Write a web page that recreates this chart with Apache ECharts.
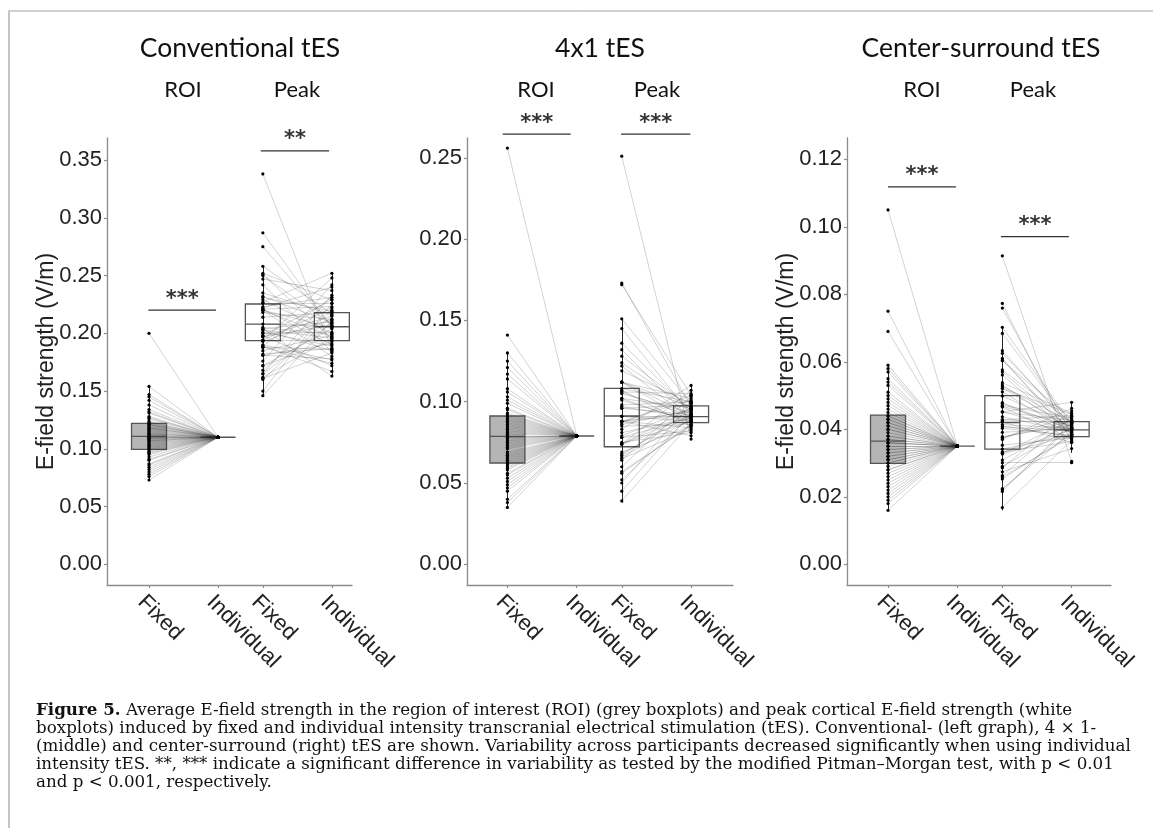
<!DOCTYPE html>
<html><head><meta charset="utf-8">
<script src="https://cdn.jsdelivr.net/npm/echarts@6/dist/echarts.min.js"></script>
<style>html,body{margin:0;padding:0;background:#fff}#c{width:1153px;height:828px}</style>
</head><body><div id="c"></div>
<script>
// ---------- categories / tick labels ----------
const xLabels = ['Fixed', 'Individual', 'Fixed', 'Individual'];
const xPos = [1, 2, 2.65, 3.65];
const groupLabels = ['ROI', 'Peak'];
const panelTitles = ['Conventional tES', '4x1 tES', 'Center-surround tES'];
const yTicksConv = [0, 0.05, 0.10, 0.15, 0.20, 0.25, 0.30, 0.35];
const yTicks4x1 = [0, 0.05, 0.10, 0.15, 0.20, 0.25];
const yTicksCS = [0, 0.02, 0.04, 0.06, 0.08, 0.10, 0.12];
const yName = 'E-field strength (V/m)';

// ---------- Conventional tES ----------
const convRoiFixed = [0.073,0.076,0.080,0.084,0.087,0.090,0.093,0.096,0.098,0.099,0.101,0.103,0.105,0.106,0.107,0.108,0.109,0.110,0.110,0.111,0.112,0.113,0.114,0.115,0.117,0.118,0.119,0.120,0.121,0.122,0.124,0.126,0.128,0.131,0.134,0.138,0.142,0.147,0.154,0.200,
  0.078,0.082,0.086,0.091,0.095,0.097,0.100,0.102,0.104,0.107,0.109,0.111,0.113,0.116,0.118,0.121,0.123,0.127,0.132,0.145];
const convRoiIndiv = [0.110,0.110,0.110,0.110,0.110,0.110,0.110,0.110,0.110,0.110,0.110,0.110,0.110,0.110,0.110,0.110,0.110,0.110,0.110,0.110,0.110,0.110,0.110,0.110,0.110,0.110,0.110,0.110,0.110,0.110,0.110,0.110,0.110,0.110,0.110,0.110,0.110,0.110,0.110,0.110,
  0.110,0.110,0.110,0.110,0.110,0.110,0.110,0.110,0.110,0.110,0.110,0.110,0.110,0.110,0.110,0.110,0.110,0.110,0.110,0.110];
const convPeakFixed = [0.150,0.146,0.176,0.168,0.165,0.189,0.172,0.194,0.172,0.227,0.197,0.185,0.197,0.223,0.182,0.214,0.200,0.194,0.226,0.208,0.181,0.218,0.203,0.247,0.201,0.220,0.188,0.235,0.203,0.232,0.189,0.229,0.221,0.258,0.220,0.204,0.251,0.275,0.287,0.338,
  0.165,0.160,0.194,0.162,0.198,0.161,0.193,0.222,0.181,0.204,0.221,0.188,0.205,0.231,0.190,0.252,0.220,0.198,0.250,0.242];
const convPeakIndiv = [0.226,0.211,0.242,0.220,0.209,0.231,0.204,0.222,0.193,0.252,0.215,0.198,0.207,0.231,0.187,0.218,0.201,0.194,0.226,0.206,0.178,0.212,0.196,0.237,0.189,0.205,0.174,0.216,0.185,0.209,0.167,0.200,0.190,0.217,0.180,0.163,0.195,0.206,0.205,0.186,
  0.233,0.215,0.248,0.196,0.229,0.183,0.212,0.240,0.191,0.210,0.223,0.186,0.199,0.219,0.177,0.229,0.197,0.172,0.208,0.184];
// box: [Q1, median, Q3] for ROI-Fixed, ROI-Individual, Peak-Fixed, Peak-Individual
const convBox = [[0.0996,0.1108,0.1221],[0.110,0.110,0.110],[0.1936,0.208,0.2254],[0.1936,0.2057,0.218]];
const convWhisker = [[0.073,0.154],[0.110,0.110],[0.145,0.258],[0.163,0.252]];
const convSigLabel = ['***', '**'];
const convSigY = [0.220, 0.358];
const convSigX = [[0.99, 1.97], [2.62, 3.61]];

// ---------- 4x1 tES ----------
const q41RoiFixed = [0.035,0.040,0.045,0.049,0.053,0.056,0.058,0.060,0.062,0.063,0.065,0.067,0.069,0.071,0.073,0.074,0.076,0.077,0.078,0.079,0.080,0.081,0.083,0.084,0.085,0.086,0.088,0.089,0.090,0.091,0.093,0.096,0.099,0.103,0.108,0.114,0.121,0.130,0.141,0.256,
  0.038,0.047,0.051,0.055,0.059,0.061,0.064,0.066,0.068,0.072,0.075,0.078,0.082,0.087,0.092,0.095,0.101,0.106,0.117,0.125];
const q41RoiIndiv = [0.079,0.079,0.079,0.079,0.079,0.079,0.079,0.079,0.079,0.079,0.079,0.079,0.079,0.079,0.079,0.079,0.079,0.079,0.079,0.079,0.079,0.079,0.079,0.079,0.079,0.079,0.079,0.079,0.079,0.079,0.079,0.079,0.079,0.079,0.079,0.079,0.079,0.079,0.079,0.079,
  0.079,0.079,0.079,0.079,0.079,0.079,0.079,0.079,0.079,0.079,0.079,0.079,0.079,0.079,0.079,0.079,0.079,0.079,0.079,0.079];
const q41PeakFixed = [0.039,0.050,0.052,0.064,0.057,0.067,0.066,0.083,0.065,0.074,0.079,0.074,0.088,0.081,0.075,0.088,0.088,0.096,0.085,0.091,0.106,0.091,0.088,0.102,0.097,0.108,0.088,0.105,0.101,0.112,0.102,0.112,0.107,0.124,0.122,0.136,0.151,0.172,0.173,0.251,
  0.045,0.060,0.056,0.074,0.068,0.074,0.069,0.087,0.078,0.086,0.078,0.098,0.096,0.112,0.106,0.119,0.112,0.128,0.132,0.145];
const q41PeakIndiv = [0.087,0.099,0.091,0.103,0.085,0.095,0.089,0.110,0.083,0.092,0.096,0.088,0.101,0.090,0.081,0.094,0.092,0.098,0.086,0.091,0.105,0.088,0.084,0.096,0.090,0.100,0.079,0.093,0.088,0.097,0.087,0.092,0.085,0.095,0.089,0.094,0.099,0.104,0.097,0.077,
  0.093,0.100,0.086,0.107,0.092,0.096,0.085,0.104,0.090,0.095,0.082,0.100,0.092,0.102,0.091,0.099,0.088,0.096,0.089,0.092];
const q41Box = [[0.0623,0.0787,0.0912],[0.0789,0.0789,0.0789],[0.0723,0.0912,0.1082],[0.0871,0.0908,0.0974]];
const q41Whisker = [[0.035,0.130],[0.0789,0.0789],[0.038,0.151],[0.078,0.110]];
const q41SigLabel = ['***', '***'];
const q41SigY = [0.2646, 0.2646];
const q41SigX = [[0.932, 1.913], [2.64, 3.64]];

// ---------- Center-surround tES ----------
const csRoiFixed = [0.016,0.018,0.020,0.022,0.024,0.025,0.027,0.028,0.029,0.030,0.031,0.032,0.033,0.033,0.034,0.035,0.035,0.036,0.036,0.037,0.038,0.039,0.040,0.041,0.042,0.042,0.043,0.044,0.044,0.045,0.047,0.049,0.051,0.053,0.055,0.057,0.059,0.069,0.075,0.105,
  0.019,0.021,0.023,0.026,0.028,0.030,0.031,0.032,0.034,0.036,0.037,0.038,0.040,0.041,0.043,0.046,0.048,0.050,0.054,0.058];
const csRoiIndiv = [0.035,0.035,0.035,0.035,0.035,0.035,0.035,0.035,0.035,0.035,0.035,0.035,0.035,0.035,0.035,0.035,0.035,0.035,0.035,0.035,0.035,0.035,0.035,0.035,0.035,0.035,0.035,0.035,0.035,0.035,0.035,0.035,0.035,0.035,0.035,0.035,0.035,0.035,0.035,0.035,
  0.035,0.035,0.035,0.035,0.035,0.035,0.035,0.035,0.035,0.035,0.035,0.035,0.035,0.035,0.035,0.035,0.035,0.035,0.035,0.035];
const csPeakFixed = [0.0168,0.0216,0.0224,0.0286,0.0259,0.0290,0.0329,0.0274,0.0331,0.0375,0.0341,0.0378,0.0452,0.0353,0.0391,0.0424,0.0301,0.0407,0.0428,0.0403,0.0471,0.0437,0.0468,0.0422,0.0479,0.0538,0.0477,0.0528,0.0466,0.0522,0.0531,0.0603,0.0561,0.0625,0.0633,0.0610,0.0702,0.0759,0.0773,0.0914,
  0.0222,0.0263,0.0253,0.0309,0.0370,0.0327,0.0375,0.0333,0.0428,0.0414,0.0451,0.0410,0.0452,0.0521,0.0499,0.0511,0.0576,0.0570,0.0605,0.0684];
const csPeakIndiv = [0.0368,0.0420,0.0392,0.0455,0.0378,0.0406,0.0427,0.0343,0.0399,0.0438,0.0385,0.0413,0.0480,0.0375,0.0403,0.0424,0.0301,0.0396,0.0417,0.0382,0.0434,0.0392,0.0410,0.0361,0.0399,0.0448,0.0389,0.0420,0.0371,0.0406,0.0396,0.0431,0.0385,0.0413,0.0403,0.0375,0.0417,0.0385,0.0361,0.0305,
  0.0410,0.0438,0.0385,0.0417,0.0462,0.0382,0.0424,0.0364,0.0441,0.0403,0.0427,0.0378,0.0396,0.0445,0.0406,0.0389,0.0420,0.0399,0.0392,0.0413];
const csBox = [[0.0299,0.0365,0.0442],[0.0350,0.0350,0.0350],[0.0341,0.0420,0.0500],[0.0378,0.0398,0.0423]];
const csWhisker = [[0.016,0.059],[0.035,0.035],[0.016,0.070],[0.033,0.048]];
const csSigLabel = ['***', '***'];
const csSigY = [0.1118, 0.0971];
const csSigX = [[1.0, 1.98], [2.63, 3.61]];

// ---------- caption ----------
const captionLines = [
  'Average E-field strength in the region of interest (ROI) (grey boxplots) and peak cortical E-field strength (white',
  'boxplots) induced by fixed and individual intensity transcranial electrical stimulation (tES). Conventional- (left graph), 4 \u00d7 1-',
  '(middle) and center-surround (right) tES are shown. Variability across participants decreased significantly when using individual',
  'intensity tES. **, *** indicate a significant difference in variability as tested by the modified Pitman\u2013Morgan test, with p < 0.01',
  'and p < 0.001, respectively.'
];
const captionHead = 'Figure 5.';

// ---------- layout (positions / styles) ----------
const layout = [
  {left:107, width:245, xMin:0.391, xMax:3.942, yMin:-0.0179, yMax:0.3691, titleX:240, showName:true},
  {left:467, width:266, xMin:0.417, xMax:4.255, yMin:-0.01273, yMax:0.2622, titleX:600, showName:false},
  {left:847, width:264, xMin:0.408, xMax:4.218, yMin:-0.00613, yMax:0.1263, titleX:981, showName:true}
];
const groupLabelX = [[183, 297], [536, 657], [922, 1033]];

const panels = [
  {roiF:convRoiFixed, roiI:convRoiIndiv, peakF:convPeakFixed, peakI:convPeakIndiv, box:convBox, whisk:convWhisker, sigL:convSigLabel, sigY:convSigY, sigX:convSigX, ticks:yTicksConv},
  {roiF:q41RoiFixed, roiI:q41RoiIndiv, peakF:q41PeakFixed, peakI:q41PeakIndiv, box:q41Box, whisk:q41Whisker, sigL:q41SigLabel, sigY:q41SigY, sigX:q41SigX, ticks:yTicks4x1},
  {roiF:csRoiFixed, roiI:csRoiIndiv, peakF:csPeakFixed, peakI:csPeakIndiv, box:csBox, whisk:csWhisker, sigL:csSigLabel, sigY:csSigY, sigX:csSigX, ticks:yTicksCS}
];

const axisCol = '#8c8c8c';
const labelFont = 'Liberation Sans';
const grids = [], xAxes = [], yAxes = [], series = [], graphics = [];

panels.forEach((p, i) => {
  const L = layout[i];
  grids.push({left: L.left, top: 138, width: L.width, height: 447});
  xAxes.push({
    type: 'value', gridIndex: i, min: L.xMin, max: L.xMax,
    splitLine: {show: false},
    axisLine: {onZero: false, lineStyle: {color: axisCol, width: 1.3}},
    axisTick: {customValues: xPos, length: 3, lineStyle: {color: axisCol, width: 1.2}},
    axisLabel: {
      customValues: xPos, rotate: -45, margin: 6, verticalAlign: 'top',
      fontFamily: labelFont, fontSize: 22, color: '#222',
      formatter: v => { const k = xPos.findIndex(q => Math.abs(q - v) < 1e-6); return k >= 0 ? xLabels[k] : ''; }
    }
  });
  yAxes.push({
    type: 'value', gridIndex: i, min: L.yMin, max: L.yMax,
    splitLine: {show: false},
    axisLine: {show: true, onZero: false, lineStyle: {color: axisCol, width: 1.3}},
    axisTick: {show: true, customValues: p.ticks, length: 3, lineStyle: {color: axisCol, width: 1.2}},
    axisLabel: {customValues: p.ticks, margin: 5, fontFamily: labelFont, fontSize: 22, color: '#222',
      formatter: v => v.toFixed(2)},
    name: L.showName ? yName : '', nameLocation: 'middle', nameGap: 49, nameMoveOverlap: false,
    nameTextStyle: {fontFamily: labelFont, fontSize: 23, color: '#222'}
  });

  // boxplots
  series.push({
    type: 'boxplot', xAxisIndex: i, yAxisIndex: i, boxWidth: [35, 35], silent: true, z: 1,
    data: p.box.map((b, k) => ({
      value: [xPos[k], b[0], b[0], b[1], b[2], b[2]],
      itemStyle: {color: k < 2 ? 'rgba(120,120,120,0.55)' : 'rgba(255,255,255,0)', borderColor: '#555', borderWidth: 1.3}
    }))
  });
  // participant connecting lines
  const pairData = [];
  p.roiF.forEach((v, k) => pairData.push({coords: [[xPos[0], v], [xPos[1], p.roiI[k]]]}));
  p.peakF.forEach((v, k) => pairData.push({coords: [[xPos[2], v], [xPos[3], p.peakI[k]]]}));
  series.push({
    type: 'lines', coordinateSystem: 'cartesian2d', xAxisIndex: i, yAxisIndex: i, silent: true, z: 2,
    lineStyle: {color: 'rgba(40,40,40,0.26)', width: 0.8, opacity: 1},
    data: pairData
  });
  // whiskers
  series.push({
    type: 'lines', coordinateSystem: 'cartesian2d', xAxisIndex: i, yAxisIndex: i, silent: true, z: 3,
    lineStyle: {color: '#222', width: 1, opacity: 1},
    data: p.whisk.map((w, k) => ({coords: [[xPos[k], w[0]], [xPos[k], w[1]]]}))
  });
  // points
  const pts = [];
  [p.roiF, p.roiI, p.peakF, p.peakI].forEach((arr, k) => arr.forEach(v => pts.push([xPos[k], v])));
  series.push({
    type: 'scatter', xAxisIndex: i, yAxisIndex: i, silent: true, z: 4,
    symbolSize: 3.2, itemStyle: {color: '#000', opacity: 1}, data: pts
  });
  // significance bars and stars
  p.sigY.forEach((y, k) => {
    series.push({
      type: 'line', xAxisIndex: i, yAxisIndex: i, clip: false, silent: true, symbol: 'none', z: 5,
      lineStyle: {color: '#333', width: 1.3},
      data: [[p.sigX[k][0], y], [p.sigX[k][1], y]]
    });
  });
  series.push({
    type: 'scatter', xAxisIndex: i, yAxisIndex: i, clip: false, silent: true, z: 5,
    symbolSize: 1, itemStyle: {color: 'rgba(0,0,0,0)'},
    label: {show: true, position: 'top', distance: 0, formatter: q => q.value[2],
      fontFamily: 'DejaVu Sans', fontWeight: 'bold', fontSize: 21, color: '#000'},
    data: p.sigY.map((y, k) => [(p.sigX[k][0] + p.sigX[k][1]) / 2, y, p.sigL[k]])
  });

  // titles
  graphics.push({type: 'text', x: L.titleX, y: 48, silent: true,
    style: {text: panelTitles[i], font: '26.5px Lato', fill: '#111', align: 'center', verticalAlign: 'middle', textAlign: 'center', textVerticalAlign: 'middle'}});
  groupLabels.forEach((g, k) => graphics.push({type: 'text', x: groupLabelX[i][k], y: 90, silent: true,
    style: {text: g, font: '22px Lato', fill: '#111', align: 'center', verticalAlign: 'middle', textAlign: 'center', textVerticalAlign: 'middle'}}));
});

// frame
graphics.push({type: 'line', silent: true, shape: {x1: 8, y1: 11, x2: 1153, y2: 11}, style: {stroke: '#a0a0a0', lineWidth: 1}});
graphics.push({type: 'line', silent: true, shape: {x1: 9, y1: 11, x2: 9, y2: 828}, style: {stroke: '#c4c4c4', lineWidth: 2}});

// caption
const capFont = '"DejaVu Serif", "Liberation Serif", serif';
const capY = [711, 729, 747, 765, 783];
const capSize = 16.7;
graphics.push({type: 'text', x: 36, y: capY[0], silent: true,
  style: {text: '{b|' + captionHead + '}{n| ' + captionLines[0] + '}',
    rich: {b: {fontFamily: capFont, fontSize: capSize, fontWeight: 'bold', fill: '#111'}, n: {fontFamily: capFont, fontSize: capSize, fill: '#111'}},
    verticalAlign: 'middle', textVerticalAlign: 'middle'}});
for (let k = 1; k < captionLines.length; k++) {
  graphics.push({type: 'text', x: 36, y: capY[k], silent: true,
    style: {text: captionLines[k], font: capSize + 'px ' + capFont, fill: '#111', verticalAlign: 'middle', textVerticalAlign: 'middle'}});
}

const chart = echarts.init(document.getElementById('c'), null, {renderer: 'canvas'});
chart.setOption({
  animation: false, backgroundColor: '#fff',
  grid: grids, xAxis: xAxes, yAxis: yAxes, series: series, graphic: graphics
});
</script></body></html>
